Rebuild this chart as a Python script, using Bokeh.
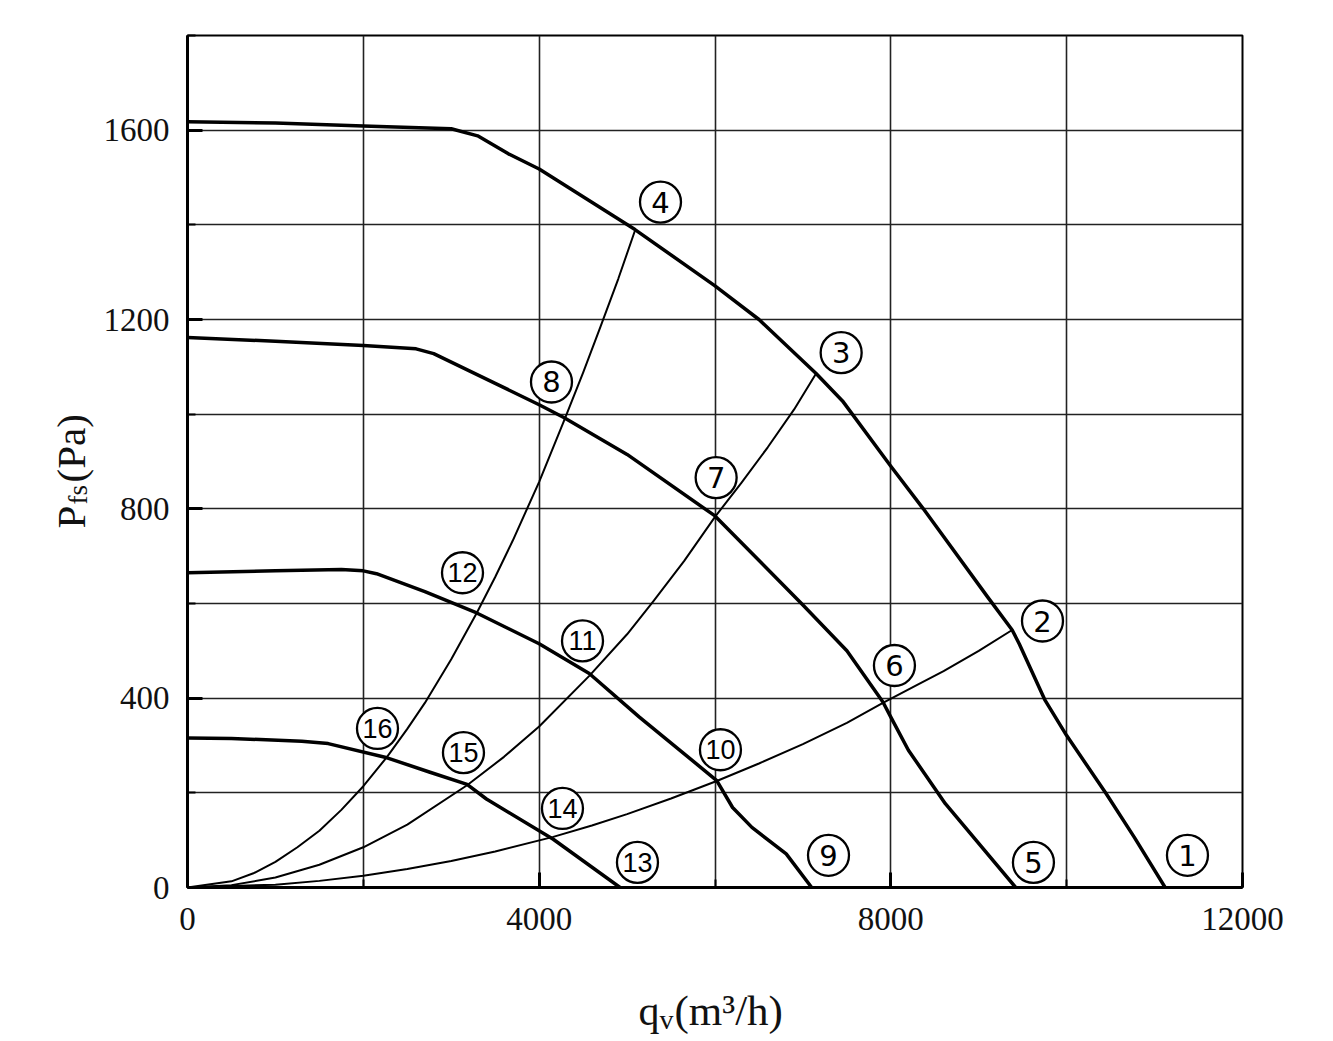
import math
from bokeh.plotting import figure
from bokeh.models import Range1d, FixedTicker, Label
from bokeh.core.properties import value
from bokeh.embed import file_html
from bokeh.resources import INLINE

# ---- data ----
# fan performance curves (speed steps)
c1_q = [0, 1000, 2000, 3000, 3300, 3650, 4000, 5090, 6000, 6500, 7150, 7450, 8000, 8370, 9100, 9380, 9460, 9750, 10000, 10450, 10770, 11120]
c1_p = [1618, 1615, 1609, 1603, 1588, 1550, 1518, 1390, 1271, 1200, 1086, 1028, 890, 800, 614, 544, 515, 397, 321, 198, 106, 0]

c2_q = [0, 1000, 2000, 2600, 2800, 3500, 4000, 4280, 5000, 6000, 7000, 7500, 7910, 8000, 8200, 8620, 9420]
c2_p = [1162, 1154, 1145, 1138, 1128, 1065, 1020, 993, 915, 785, 597, 500, 392, 360, 290, 177, 0]

c3_q = [0, 1000, 1750, 2000, 2150, 2700, 3290, 4000, 4570, 5140, 6020, 6200, 6420, 6810, 7100]
c3_p = [665, 669, 672, 669, 663, 625, 580, 515, 452, 360, 226, 169, 127, 71, 0]

c4_q = [0, 500, 1300, 1600, 2270, 2750, 3180, 3400, 4160, 4920]
c4_p = [316, 315, 309, 304, 274, 244, 218, 187, 102, 0]

# system (resistance) curves
sA_q = [0, 500, 750, 1000, 1250, 1500, 1750, 2000, 2270, 2500, 2700, 3000, 3290, 3500, 3700, 4000, 4280, 4500, 4700, 4900, 5090]
sA_p = [0, 13, 30, 54, 85, 120, 164, 214, 276, 335, 390, 482, 580, 656, 733, 857, 985, 1088, 1186, 1286, 1388]

sB_q = [0, 500, 1000, 1500, 2000, 2500, 3180, 3600, 4000, 4570, 5000, 5300, 5650, 6000, 6300, 6600, 6900, 7150]
sB_p = [0, 5, 21, 48, 85, 133, 216, 276, 340, 447, 535, 605, 690, 783, 855, 930, 1010, 1086]

sC_q = [0, 1000, 1500, 2000, 2500, 3000, 3500, 4160, 4600, 5000, 5500, 6020, 6500, 7000, 7500, 7910, 8300, 8600, 9000, 9380]
sC_p = [0, 6, 14, 25, 39, 56, 76, 107, 131, 155, 188, 225, 262, 303, 348, 390, 428, 457, 500, 544]

# circled point labels
lab_txt = ["1", "2", "3", "4", "5", "6", "7", "8", "9", "10", "11", "12", "13", "14", "15", "16"]
lab_q = [11374, 9725, 7435, 5380, 9622, 8041, 6013, 4140, 7291, 6062, 4493, 3128, 5118, 4265, 3139, 2161]
lab_p = [68, 563, 1130, 1448, 53, 469, 866, 1068, 68, 291, 521, 665, 53, 167, 285, 336]

x_ticks = [0, 4000, 8000, 12000]
x_minor = [2000, 6000, 10000]
y_ticks = [0, 400, 800, 1200, 1600]
y_minor = [200, 600, 1000, 1400, 1800]

SERIF = "Liberation Serif"

p = figure(width=1333, height=1041, output_backend="svg", toolbar_location=None,
           x_range=Range1d(0, 12000), y_range=Range1d(0, 1800),
           min_border_left=187, min_border_right=91, min_border_top=35, min_border_bottom=154)
p.background_fill_color = "white"
p.border_fill_color = "white"
p.outline_line_color = "black"
p.outline_line_width = 2

for ax, ticks, minor in ((p.xaxis[0], x_ticks, x_minor), (p.yaxis[0], y_ticks, y_minor)):
    ax.ticker = FixedTicker(ticks=ticks, minor_ticks=minor)
    ax.axis_line_width = 3
    ax.axis_line_color = "black"
    ax.major_tick_in = 15
    ax.major_tick_out = 0
    ax.minor_tick_in = 8
    ax.minor_tick_out = 0
    ax.major_tick_line_width = 3
    ax.minor_tick_line_width = 2
    ax.major_label_text_font = SERIF
    ax.major_label_text_font_size = "33px"
    ax.major_label_text_color = "#111111"
p.yaxis.major_label_standoff = 18
p.xaxis.major_label_standoff = 20

for g in (p.xgrid[0], p.ygrid[0]):
    g.grid_line_color = "#222222"
    g.grid_line_width = 1.6
    g.minor_grid_line_color = "#222222"
    g.minor_grid_line_width = 1.6

# system curves (thin)
for q, pr in ((sA_q, sA_p), (sB_q, sB_p), (sC_q, sC_p)):
    p.line(q, pr, line_color="black", line_width=2, line_join="round")

# performance curves (thick)
for q, pr in ((c1_q, c1_p), (c2_q, c2_p), (c3_q, c3_p), (c4_q, c4_p)):
    p.line(q, pr, line_color="black", line_width=3.5, line_join="round")

# circled labels
p.scatter(lab_q, lab_p, marker="circle", size=41, fill_color="white",
          line_color="black", line_width=2.3)
one = [i for i, t in enumerate(lab_txt) if len(t) == 1]
two = [i for i, t in enumerate(lab_txt) if len(t) == 2]
p.text([lab_q[i] for i in one], [lab_p[i] for i in one], text=[lab_txt[i] for i in one],
       text_align="center", text_baseline="middle", text_font=value("DejaVu Sans"),
       text_font_size="29px", text_color="black")
p.text([lab_q[i] for i in two], [lab_p[i] for i in two], text=[lab_txt[i] for i in two],
       text_align="center", text_baseline="middle", text_font=value("Liberation Sans"),
       text_font_size="27px", text_color="black")

# axis titles built from pieces (sub/superscripts); they live in side panels
# (so they are not clipped to the frame) spread so no panel exceeds its border
def px2x(px):
    return (px - 187) / 1055 * 12000

def py2y(py):
    return (887 - py) / 852 * 1800

def lab(txt, px, py, size, side, angle=0.0):
    p.add_layout(Label(x=px2x(px), y=py2y(py), text=txt, text_font=SERIF,
                       text_font_size=size, text_color="#111111", angle=angle,
                       text_align="left", text_baseline="alphabetic"), side)

# x title: q_v(m³/h)
lab("q", 638, 1010, "42px", "below")
lab("v", 659, 1019, "28px", "right")
lab("(m\u00b3/h)", 674, 1010, "43px", "below")

# y title: P_fs(Pa)
a = math.pi / 2
lab("P", 70, 528, "41px", "left", a)
lab("fs", 77, 504, "27px", "right", a)
lab("(Pa)", 70, 482, "41px", "left", a)

open("out.html", "w").write(file_html(p, INLINE))
